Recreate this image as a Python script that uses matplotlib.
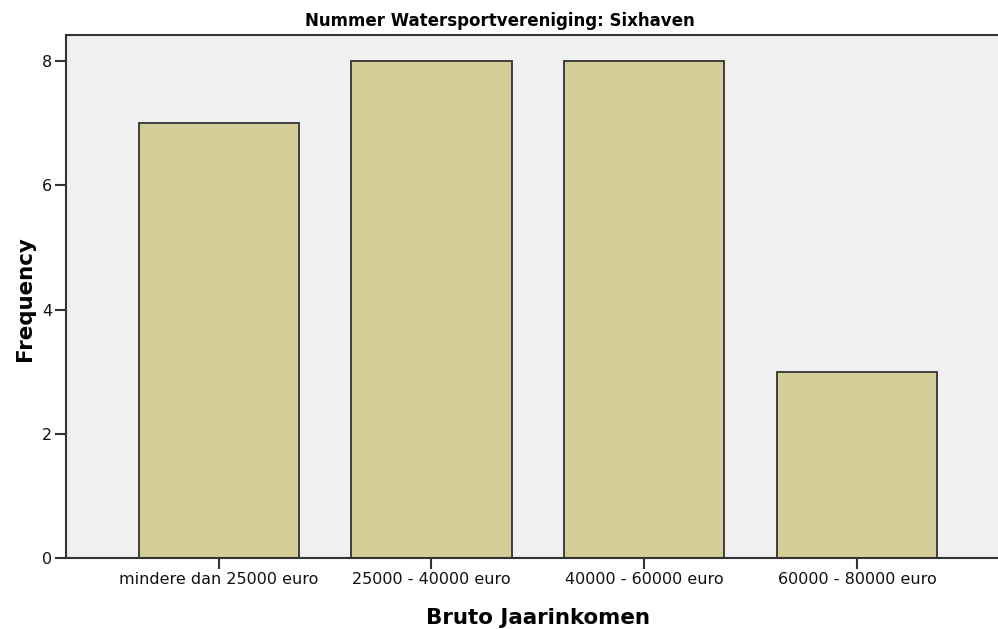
import matplotlib
matplotlib.use('Agg')
import matplotlib.pyplot as plt
import numpy as np

# Data
categories = ['mindere dan 25000 euro', '25000 - 40000 euro', '40000 - 60000 euro', '60000 - 80000 euro']
frequency = [7, 8, 8, 3]
y_ticks = [0, 2, 4, 6, 8]

W, H = 998, 629
fig = plt.figure(figsize=(W / 100, H / 100), dpi=100)
fig.patch.set_facecolor('white')

# plot area in pixel coordinates of the reference
left, right, top, bottom = 66, 999, 35, 558
ax = fig.add_axes([left / W, 1 - bottom / H, (right - left) / W, (bottom - top) / H])
ax.set_facecolor('#F0F0F0')

x = np.arange(len(categories))
ax.bar(x, frequency, width=0.753, color='#D3CE97', edgecolor='#333333', linewidth=1.3, zorder=2)

ax.set_xlim(-0.7176, 3.668)
ax.set_ylim(0, 8.42)
ax.set_xticks(x)
ax.set_xticklabels(categories, fontsize=11.5, family='DejaVu Sans')
ax.set_yticks(y_ticks)
ax.set_yticklabels([str(t) for t in y_ticks], fontsize=11.5, family='DejaVu Sans')
ax.tick_params(axis='both', length=8, width=1.5, color='#333333', pad=2, labelcolor='#111111')

for side in ['left', 'top', 'bottom']:
    ax.spines[side].set_color('#333333')
    ax.spines[side].set_linewidth(1.5)
ax.spines['right'].set_visible(False)

fig.text(500 / W, 1 - 21 / H, 'Nummer Watersportvereniging: Sixhaven',
         ha='center', va='center', fontsize=12, fontweight='bold', family='DejaVu Sans')
fig.text(537.5 / W, 1 - 618 / H, 'Bruto Jaarinkomen',
         ha='center', va='center', fontsize=15.4, fontweight='bold', family='DejaVu Sans')
fig.text(25 / W, 1 - 298.5 / H, 'Frequency', rotation=90,
         ha='center', va='center', fontsize=15.4, fontweight='bold', family='DejaVu Sans')

fig.savefig('out.png', dpi=100)
